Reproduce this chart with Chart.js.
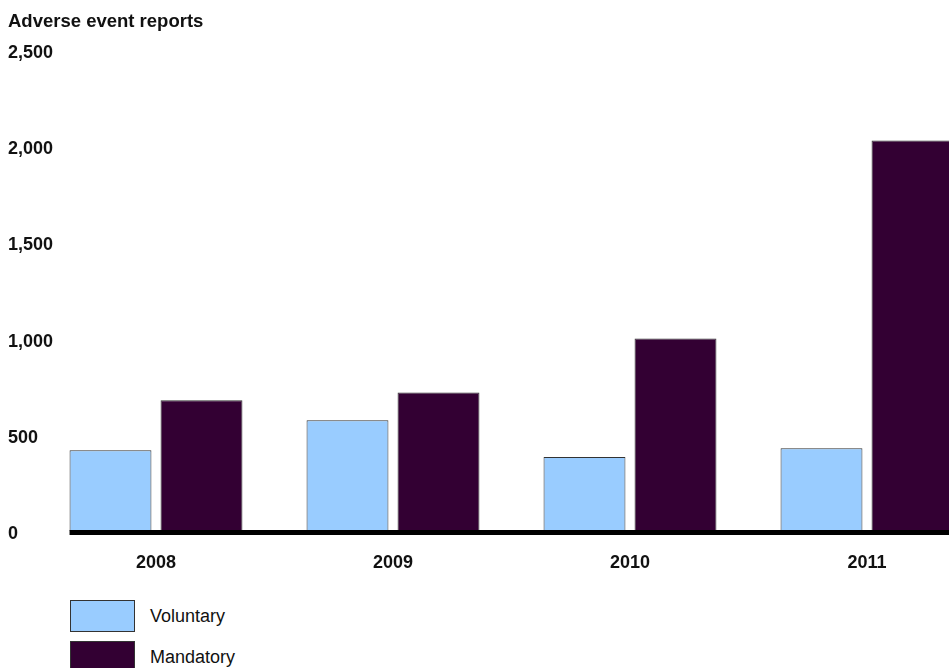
<!DOCTYPE html>
<html>
<head>
<meta charset="utf-8">
<script src="https://cdn.jsdelivr.net/npm/chart.js@4.4.1/dist/chart.umd.min.js"></script>
<style>
  body { margin: 0; background: #fff; overflow: hidden; font-family: "Liberation Sans", Arial, sans-serif; }
  #wrap { position: relative; width: 949px; height: 668px; overflow: hidden; }
  #legend { position: absolute; left: 70px; top: 600px; }
  .item { display: flex; align-items: center; height: 32px; margin-bottom: 9px; }
  .box { width: 63px; height: 30px; border: 1px solid #333; margin-right: 15px; }
  .lbl { font-size: 18px; color: #111; }
</style>
</head>
<body>
<div id="wrap">
  <canvas id="chart" width="990" height="571"></canvas>
  <div id="legend"></div>
</div>
<script>
// chart data
const years = ['2008', '2009', '2010', '2011'];
const voluntary = [420, 575, 385, 430];
const mandatory = [680, 720, 1000, 2030];
const seriesNames = ['Voluntary', 'Mandatory'];
const seriesColors = ['#99ccff', '#330033'];
const yTicks = [0, 500, 1000, 1500, 2000, 2500];

// thick zero line starting at the first bar
const zeroLine = {
    id: 'zeroLine',
    afterDatasetsDraw(chart) {
        const ctx = chart.ctx;
        const y = chart.scales.y.getPixelForValue(0);
        const bar = chart.getDatasetMeta(0).data[0];
        const x0 = bar.x - bar.width / 2;
        ctx.save();
        ctx.fillStyle = '#000';
        ctx.fillRect(x0, y - 1, chart.chartArea.right - x0, 5);
        ctx.restore();
    }
};

const chart = new Chart(document.getElementById('chart'), {
    type: 'bar',
    data: {
        labels: years,
        datasets: [
            { label: seriesNames[0], data: voluntary, backgroundColor: seriesColors[0], borderColor: '#333', borderWidth: 1 },
            { label: seriesNames[1], data: mandatory, backgroundColor: seriesColors[1], borderColor: '#333', borderWidth: 1 }
        ]
    },
    options: {
        responsive: false,
        animation: false,
        layout: { padding: { left: 8, top: 11, right: 4.5, bottom: 0 } },
        categoryPercentage: 0.768,
        barPercentage: 0.9,
        plugins: {
            legend: { display: false },
            tooltip: { enabled: false },
            title: {
                display: true,
                text: 'Adverse event reports',
                align: 'start',
                color: '#111',
                font: { family: '"Liberation Sans", Arial', size: 18.5, weight: 'bold' },
                padding: { top: 0, bottom: 16.8 }
            }
        },
        scales: {
            x: {
                afterFit: s => { s.height = 40; },
                grid: { display: false, drawTicks: false },
                border: { display: false },
                ticks: {
                    color: '#111',
                    padding: 21,
                    font: { family: '"Liberation Sans", Arial', size: 18, weight: 'bold' }
                }
            },
            y: {
                min: 0,
                max: 2500,
                afterBuildTicks: s => { s.ticks = yTicks.map(v => ({ value: v })); },
                afterFit: s => { s.width = 29.5; },
                grid: { display: false, drawTicks: false },
                border: { display: false },
                ticks: {
                    color: '#111',
                    mirror: true,
                    padding: -29.5,
                    labelOffset: 3,
                    font: { family: '"Liberation Sans", Arial', size: 18, weight: 'bold' },
                    callback: v => v.toLocaleString('en-US')
                }
            }
        }
    },
    plugins: [zeroLine]
});

// legend in a column under the chart
const legend = document.getElementById('legend');
seriesNames.forEach((name, i) => {
    const row = document.createElement('div');
    row.className = 'item';
    row.innerHTML = '<div class="box" style="background:' + seriesColors[i] + '"></div><span class="lbl">' + name + '</span>';
    legend.appendChild(row);
});
</script>
</body>
</html>
